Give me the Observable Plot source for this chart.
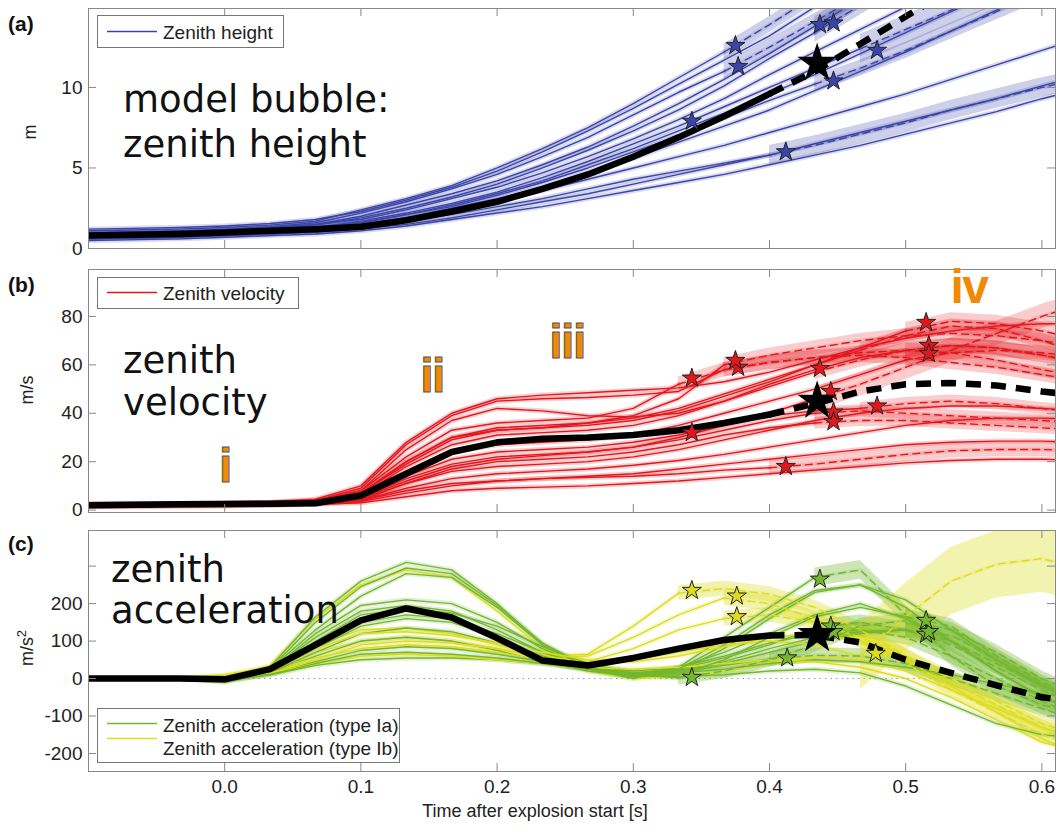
<!DOCTYPE html>
<html><head><meta charset="utf-8">
<script src="https://cdn.jsdelivr.net/npm/d3@7"></script>
<script src="https://cdn.jsdelivr.net/npm/@observablehq/plot@0.6"></script>
<style>
html,body{margin:0;padding:0;background:#fff;overflow:hidden;}
#wrap{position:relative;width:1056px;height:826px;overflow:hidden;}
.panel{position:absolute;left:0;}
#ov{position:absolute;left:0;top:0;pointer-events:none;}
</style></head>
<body>
<div id="wrap">
<div id="pa" class="panel" style="top:0px"></div>
<div id="pb" class="panel" style="top:262px"></div>
<div id="pc" class="panel" style="top:524px"></div>
<svg id="ov" width="1056" height="826" font-family="Liberation Sans, Arial, sans-serif" fill="#222">
  <g font-weight="bold" font-size="21" fill="#111">
    <text x="8" y="31">(a)</text>
    <text x="8" y="292">(b)</text>
    <text x="8" y="551">(c)</text>
  </g>
  <g font-size="18" text-anchor="middle">
    <text transform="translate(36,132) rotate(-90)">m</text>
    <text transform="translate(33,390) rotate(-90)">m/s</text>
    <text transform="translate(33,648) rotate(-90)">m/s<tspan baseline-shift="super" font-size="13">2</tspan></text>
  </g>
  <g font-family="DejaVu Sans" font-size="37" fill="#111">
    <text x="123" y="112">model bubble:</text>
    <text x="123" y="157">zenith height</text>
    <text x="123" y="373">zenith</text>
    <text x="123" y="415">velocity</text>
    <text x="111" y="582">zenith</text>
    <text x="111" y="623">acceleration</text>
  </g>
  <g font-family="Liberation Sans, Arial, sans-serif" font-weight="bold" font-size="48" fill="#f08a05" stroke="#555" stroke-width="1" text-anchor="middle" letter-spacing="-1.5">
    <text x="225" y="482">i</text>
    <text x="432" y="392">ii</text>
    <text x="567" y="358">iii</text>
    <text x="969" y="303" stroke="none">iv</text>
  </g>
  <g font-size="19">
    <rect x="97.5" y="15.5" width="186" height="32" fill="#fff" stroke="#777"/>
    <line x1="107" x2="157" y1="31.5" y2="31.5" stroke="#3b44a8" stroke-width="1.5"/>
    <text x="163" y="39">Zenith height</text>
    <rect x="97.5" y="277.5" width="201" height="31" fill="#fff" stroke="#777"/>
    <line x1="107" x2="157" y1="292.5" y2="292.5" stroke="#e3161c" stroke-width="1.5"/>
    <text x="163" y="300">Zenith velocity</text>
    <rect x="97.5" y="708.5" width="302" height="54" fill="#fff" stroke="#777"/>
    <line x1="107" x2="157" y1="723.5" y2="723.5" stroke="#74b72e" stroke-width="1.5"/>
    <text x="163" y="732">Zenith acceleration (type Ia)</text>
    <line x1="107" x2="157" y1="738.5" y2="738.5" stroke="#dedc1e" stroke-width="1.5"/>
    <text x="163" y="755">Zenith acceleration (type Ib)</text>
  </g>
  <text x="535" y="817" font-size="18" text-anchor="middle">Time after explosion start [s]</text>
</svg>
</div>
<script>
// ---------- shared time grid (s) ----------
const T = [-0.1,-0.0667,-0.0333,0,0.0333,0.0667,0.1,0.1333,0.1667,0.2,0.2333,0.2667,0.3,0.3333,0.3667,0.4,0.4333,0.4667,0.5,0.5333,0.5667,0.6,0.6333];
const xTicks = [0,0.1,0.2,0.3,0.4,0.5,0.6];

// ---------- (a) zenith height, m ----------
const h1  = [1.1,1.15,1.2,1.3,1.45,1.7,2.4,3.1,3.9,5.0,6.2,7.5,9.0,10.6,12.2,13.9,15.7,17.5];
const h2  = [1.0,1.05,1.1,1.2,1.35,1.6,2.2,2.9,3.7,4.6,5.7,6.9,8.3,9.7,11.0,12.5,14.1,15.7,17.3];
const h3  = [0.9,0.95,1.0,1.1,1.3,1.5,2.0,2.7,3.4,4.2,5.2,6.3,7.6,9.0,10.5,12.1,13.8,15.5,17.2];
const h4  = [0.8,0.85,0.95,1.05,1.2,1.45,1.9,2.5,3.2,4.0,5.0,6.1,7.3,8.6,10.1,11.8,13.4,15.1,16.8];
const h5  = [0.7,0.75,0.85,0.95,1.1,1.3,1.7,2.2,2.8,3.5,4.4,5.4,6.5,7.6,8.8,10.0,11.2,12.4,13.6,14.8,16.0];
const h6  = [0.75,0.8,0.9,1.0,1.1,1.3,1.6,2.1,2.6,3.3,4.1,5.0,6.0,7.0,8.1,9.2,10.2,11.2,12.3,13.5,14.7,15.9];
const h7  = [0.9,0.95,1.0,1.1,1.25,1.5,1.8,2.4,3.1,3.8,4.7,5.7,6.8,8.0,9.3,10.8,12.2,13.6,15.0,16.4];
const h8  = [1.2,1.25,1.3,1.4,1.55,1.8,2.3,3.0,3.8,4.8,6.0,7.3,8.7,10.2,11.7,13.2,15.0,16.8];
const h9  = [0.6,0.65,0.7,0.8,0.9,1.05,1.3,1.7,2.1,2.6,3.1,3.7,4.3,4.8,5.3,5.8,6.4,7.1,7.8,8.6,9.3,10.0,10.6];
const h10 = [0.85,0.9,0.95,1.05,1.15,1.3,1.4,1.9,2.4,3.0,3.6,4.3,5.0,5.7,6.4,7.2,8.0,8.8,9.6,10.5,11.4,12.3,13.2];
const h11 = [0.5,0.55,0.6,0.7,0.8,0.9,1.1,1.4,1.8,2.2,2.6,3.1,3.6,4.1,4.6,5.2,5.8,6.4,7.1,7.8,8.5,9.3,10.0];
const h12 = [0.6,0.65,0.7,0.8,0.9,1.0,1.2,1.5,1.9,2.4,2.9,3.4,4.0,4.6,5.2,5.8,6.5,7.2,7.9,8.6,9.3,10.1,10.8];
const h13 = [0.7,0.75,0.8,0.9,1.0,1.2,1.5,1.9,2.5,3.1,3.8,4.7,5.6,6.6,7.6,8.6,9.8,11.0,12.2,13.5,14.8,16.0];
const h14 = [0.8,0.85,0.9,1.0,1.1,1.3,1.6,2.1,2.7,3.4,4.2,5.2,6.2,7.3,8.4,9.6,10.8,12.1,13.4,14.7,16.0];
const heightLines  = [h1,h2,h3,h4,h5,h6,h7,h8,h9,h10,h11,h12,h13,h14];
const heightBreaks = [14,14,16,16,17,16,null,null,15,null,null,null,null,null];
const heightBands  = [0.5,0.5,0.6,0.6,0.9,0.5,0,0,0.6,0,0,0,0,0];
const heightStarT  = [0.375,0.377,0.437,0.447,0.479,0.447,0.412,0.343];
const heightStarV  = [12.6,11.3,13.9,14.0,12.3,10.4,6.0,7.9];
const heightMean   = [0.8,0.85,0.9,1.0,1.1,1.2,1.35,1.75,2.3,2.9,3.7,4.6,5.7,6.9,8.2,9.6,11.0,12.7,14.4,16.1];
const heightMeanBreak = 15;
const heightBigStar = [{t:0.435, v:11.5}];
const heightTicks = [0,5,10];

// ---------- (b) zenith velocity, m/s ----------
const v1  = [2,2.2,2.4,2.6,3,4,9,27,39,45,46,46.5,47.5,49,58,61,63,65,66,65,62,58,55];
const v2  = [1.8,2,2.2,2.4,2.8,3.5,8,25,37,42,41,39,38.5,40,45,51,57,62,66,68,67,64,61];
const v3  = [2.2,2.4,2.5,2.7,3,4,8,22,33,36,37,38,42,52,58,61,63,64,63,61,59,56,53];
const v4  = [2,2.2,2.3,2.5,2.8,3.5,7,20,30,34,35,36,38,42,48,54,60,67,74,78,77,74,70];
const v5  = [2.5,2.6,2.7,2.8,3,3.8,6,18,27,31,32,33,35,39,45,52,58,63,66,68,67,64,60];
const v6  = [1.5,1.7,1.9,2,2.3,3,6,16,24,27,28,29,31,35,40,45,50,56,62,65,66,65,63];
const v7  = [2,2.1,2.2,2.4,2.6,3.2,5,14,21,24,25,26,28,31,35,39,41,42,44,45,44,42,40];
const v8  = [2.2,2.3,2.4,2.5,2.7,3.2,5,13,19,22,23,24,26,29,33,37,40,41,40,39,38,37,36];
const v9  = [1.5,1.6,1.7,1.8,2,2.6,4,11,17,20,21,22,24,27,31,34,36,37,37,36,35,34,33];
const v10 = [1.8,1.9,2,2.1,2.3,2.8,3.5,7,10,12,13,13.5,14,15,16.5,17.5,19,21,23,24.5,25,25,24.5];
const v11 = [2,2.1,2.2,2.3,2.5,3,4,8,11,12,13,14,15,17,19,21,23,25,27,28,28.5,28.5,28];
const v12 = [2.3,2.4,2.5,2.6,2.8,3.3,5,12,18,21,22.5,24,26,30,35,40,46,52,59,66,73,80,86];
const v13 = [1.8,1.9,2,2.1,2.3,2.8,4,9,13,15,16,17,18.5,20.5,23,26,29,32,35,37,38,38,37.5];
const v14 = [2,2.2,2.3,2.5,2.8,3.6,7,20,30,33,34,36,39,46,60,64,67,70,72,73,72,70,67];
const v15 = [1.5,1.6,1.7,1.8,2,2.4,3,5.5,8,9,9.5,10,11,12,13.5,15,16.5,18,19.5,20.5,21,21,20.5];
const v16 = [2,2.1,2.2,2.3,2.5,3,4.5,11,16,18,19,20,22,25,29,33,37,40,42,43,43,42,41];
const v17 = [2.5,2.6,2.7,2.9,3.2,4.5,10,28,40,46,47.5,48.5,49.5,50.5,53,57,62,67,71,74,76,77,77];
const v18 = [2,2.1,2.2,2.4,2.7,3.4,7,19,29,33,34,35,37,41,47,53,60,66,72,76,75,70,64];
const velLines  = [v1,v2,v3,v4,v5,v6,v7,v8,v9,v10,v11,v12,v13,v14,v15,v16,v17,v18];
const velBreaks = [14,16,13,18,18,18,17,16,16,15,null,16,null,14,null,null,null,17];
const velBands  = [3,3,3,3.5,3,3,2.5,2.5,2.5,3,0,5,0,3,0,0,0,3];
const velStarT  = [0.377,0.437,0.343,0.515,0.517,0.517,0.479,0.447,0.447,0.412,0.445,0.375,0.343];
const velStarV  = [59,58.5,54.5,77.5,68,64.7,43,40.5,36.5,18,49,61.8,32];
const velMean   = [2.0,2.2,2.4,2.5,2.6,2.8,6,15,24,28,29.5,30,31,33,36,39.5,44,49,52,52.5,51.5,49,47];
const velMeanBreak = 15;
const velBigStar = [{t:0.435, v:45}];
const velTicks = [0,20,40,60,80];

// ---------- (c) zenith acceleration, m/s² ----------
const g1  = [0,0,0,-5,30,165,260,310,290,200,90,25,0,30,110,190,270,290,170,60,-20,-70,-100];
const g2  = [0,0,0,-8,25,150,245,295,280,195,95,30,5,20,80,160,230,250,190,100,20,-50,-90];
const g3  = [0,0,0,-3,20,120,195,210,200,150,80,30,10,30,70,120,170,200,160,100,20,-50,-100];
const g4  = [0,0,0,-4,22,110,180,195,180,130,70,30,15,25,55,90,135,150,130,90,30,-30,-80];
const g5  = [0,0,0,-2,18,90,150,170,160,120,70,35,20,30,60,95,120,130,110,60,0,-60,-110];
const g6  = [0,0,0,-10,15,60,100,110,100,75,45,20,5,15,35,52,62,60,40,0,-40,-80,-120];
const g7  = [0,0,0,-6,12,45,75,85,80,65,45,25,10,20,40,70,100,120,130,100,40,-20,-60];
const g8  = [0,0,0,-3,10,35,50,55,55,50,40,25,10,2,20,50,90,140,155,130,70,0,-50];
const g9  = [0,0,0,-4,15,70,120,135,125,95,60,30,10,20,45,80,110,125,130,115,50,-20,-70];
const g10 = [0,0,0,-2,20,100,170,185,175,140,85,40,15,15,25,40,50,45,30,10,-15,-40,-60];
const g11 = [0,0,0,-5,25,130,220,280,270,190,90,30,5,25,90,170,235,250,210,130,50,-20,-60];
const g12 = [0,0,0,-5,20,80,140,160,150,110,60,25,5,10,50,110,165,190,165,140,60,-10,-60];
const g13 = [0,0,0,-6,10,40,65,70,65,55,40,25,10,5,10,20,25,15,-20,-70,-120,-150,-160];
const y1  = [0,0,0,5,35,160,250,290,270,180,80,20,0,5,20,40,60,50,20,-30,-80,-130,-170];
const y2  = [0,0,0,10,30,90,130,135,120,90,60,65,140,228,240,225,190,130,60,-10,-70,-130,-170];
const y3  = [0,0,0,8,25,70,100,110,100,80,55,60,110,170,215,200,160,100,40,-30,-90,-150,-190];
const y4  = [0,0,0,5,20,55,80,90,85,70,50,45,80,130,160,170,150,110,60,0,-60,-120,-160];
const y5  = [0,0,0,3,15,50,90,100,95,80,60,45,50,70,90,100,90,60,165,260,305,320,290];
const y6  = [0,0,0,2,15,40,60,65,60,50,40,30,25,30,40,50,45,30,0,-50,-110,-170,-200];
const y7  = [0,0,0,4,25,80,120,125,115,95,70,50,45,60,85,110,120,100,50,-20,-90,-160,-210];
const accLines  = [y1,g1,g2,y2,g3,g4,y3,g5,g6,y4,g7,g8,y5,g9,g10,y6,g11,g12,y7,g13];
const accTypes  = ["Ib","Ia","Ia","Ib","Ia","Ia","Ib","Ia","Ia","Ib","Ia","Ia","Ib","Ia","Ia","Ib","Ia","Ia","Ib","Ia"];
const accBreaks = [null,16,null,13,null,16,14,16,15,14,18,13,17,18,null,null,null,18,null,null];
const accBands  = [0,25,0,20,0,20,20,20,20,20,20,20,90,20,0,0,0,20,0,0];
const accStarT  = [0.437,0.445,0.447,0.413,0.515,0.343,0.517,0.515,0.343,0.376,0.376,0.478];
const accStarV  = [265,140,125,55,118,3,125,155,235,220,165,67];
const accStarType = ["Ia","Ia","Ia","Ia","Ia","Ia","Ia","Ia","Ib","Ib","Ib","Ib"];
const accMean   = [0,0,0,-2,25,90,155,187,163,108,48,35,55,80,103,115,116,96,50,15,-18,-50,-65];
const accMeanBreak = 15;
const accBigStar = [{t:0.435, v:118}];
const accTicks = [-200,-100,0,100,200,300];
const accTickLabels = [-200,-100,0,100,200];

// ---------- helpers ----------
const BLUE = "#3b44a8", RED = "#e3161c", GREEN = "#74b72e", YELLOW = "#dedc1e";
const XD = [-0.1, 0.61];
const W = 1056, ML = 88, MR = 1;

function buildRows(lines, breaks, bands, types) {
  const solid = [], dashed = [], band = [];
  lines.forEach((vals, k) => {
    const b = breaks[k];
    const type = types ? types[k] : "s";
    vals.forEach((v, i) => {
      const row = {id: k, t: T[i], v, type};
      if (b == null || i <= b) solid.push(row);
      if (b != null && i >= b) {
        dashed.push(row);
        if (bands[k] > 0) band.push({id: k, t: T[i], lo: v - bands[k], hi: v + bands[k], type});
      }
    });
  });
  return {solid, dashed, band};
}
function meanRows(vals, b) {
  const s = [], d = [];
  vals.forEach((v, i) => { if (i <= b) s.push({t: T[i], v}); if (i >= b) d.push({t: T[i], v}); });
  return {s, d};
}
function starRows(ts, vs, types) { return ts.map((t, i) => ({t, v: vs[i], type: types ? types[i] : "s"})); }

function frameTicks(yd, H, yt) {
  const pw = W - ML - MR;
  const dx = (XD[1] - XD[0]) * 8 / pw, dy = (yd[1] - yd[0]) * 8 / H;
  const st = {stroke: "#888", strokeWidth: 1};
  return [
    Plot.ruleX(xTicks, {x: d => d, y1: yd[0], y2: yd[0] + dy, ...st}),
    Plot.ruleX(xTicks, {x: d => d, y1: yd[1], y2: yd[1] - dy, ...st}),
    Plot.ruleY(yt, {y: d => d, x1: XD[0], x2: XD[0] + dx, ...st}),
    Plot.ruleY(yt, {y: d => d, x1: XD[1], x2: XD[1] - dx, ...st})
  ];
}

function panel({lines, breaks, bands, types, mean, meanBreak, stars, big, yd, height, mt, mb, yt, ytl, colorOpt, colorConst, bandOpacity, extra, xAxis}) {
  const r = buildRows(lines, breaks, bands, types);
  const m = meanRows(mean, meanBreak);
  const H = height - mt - mb;
  const col = colorConst ? colorConst : "type";
  const marks = [
    ...(extra || []),
    Plot.areaY(r.band, {x: "t", y1: "lo", y2: "hi", z: "id", fill: col, fillOpacity: bandOpacity, clip: true}),
    Plot.line(r.solid, {x: "t", y: "v", z: "id", stroke: col, strokeWidth: 5, strokeOpacity: 0.2, clip: true}),
    Plot.line(r.dashed, {x: "t", y: "v", z: "id", stroke: col, strokeWidth: 4, strokeOpacity: 0.15, clip: true}),
    Plot.line(r.solid, {x: "t", y: "v", z: "id", stroke: col, strokeWidth: 1.4, clip: true}),
    Plot.line(r.dashed, {x: "t", y: "v", z: "id", stroke: col, strokeWidth: 1.4, strokeDasharray: "7,5", clip: true}),
    Plot.line(m.s, {x: "t", y: "v", stroke: "#000", strokeWidth: 6.5, clip: true}),
    Plot.line(m.d, {x: "t", y: "v", stroke: "#000", strokeWidth: 6.5, strokeDasharray: "15,10", strokeLinecap: "butt", clip: true}),
    Plot.dot(stars, {x: "t", y: "v", symbol: "star", r: 6, fill: col, stroke: "#222", strokeWidth: 1, clip: true}),
    Plot.dot(big, {x: "t", y: "v", symbol: "star", r: 11, fill: "#000", stroke: "#000", clip: true}),
    Plot.frame({stroke: "#888"}),
    ...frameTicks(yd, H, yt),
    Plot.axisY(ytl, {anchor: "left", tickSize: 0, tickPadding: 6, tickFormat: d => String(d), label: null})
  ];
  if (xAxis) marks.push(Plot.axisX(xTicks, {anchor: "bottom", tickSize: 0, tickPadding: 8, tickFormat: d3.format(".1f"), label: null}));
  const xScale = xAxis ? {domain: XD} : {domain: XD, axis: null};
  return Plot.plot({
    width: W, height, marginLeft: ML, marginRight: MR, marginTop: mt, marginBottom: mb,
    x: xScale, y: {domain: yd},
    color: colorOpt,
    style: {fontFamily: "Liberation Sans, Arial, sans-serif", fontSize: "19px", color: "#222", background: "transparent", overflow: "visible"},
    marks
  });
}

document.getElementById("pa").append(panel({
  lines: heightLines, breaks: heightBreaks, bands: heightBands, types: null,
  mean: heightMean, meanBreak: heightMeanBreak,
  stars: starRows(heightStarT, heightStarV), big: heightBigStar,
  yd: [0, 14.9], height: 262, mt: 8, mb: 14, yt: heightTicks, ytl: heightTicks,
  colorConst: BLUE, bandOpacity: 0.25
}));

document.getElementById("pb").append(panel({
  lines: velLines, breaks: velBreaks, bands: velBands, types: null,
  mean: velMean, meanBreak: velMeanBreak,
  stars: starRows(velStarT, velStarV), big: velBigStar,
  yd: [-1, 99.4], height: 262, mt: 7, mb: 12, yt: velTicks, ytl: velTicks,
  colorConst: RED, bandOpacity: 0.22
}));

document.getElementById("pc").append(panel({
  lines: accLines, breaks: accBreaks, bands: accBands, types: accTypes,
  mean: accMean, meanBreak: accMeanBreak,
  stars: starRows(accStarT, accStarV, accStarType), big: accBigStar,
  yd: [-248, 395], height: 302, mt: 6, mb: 55, yt: accTicks, ytl: accTickLabels,
  colorOpt: {domain: ["Ia", "Ib"], range: [GREEN, YELLOW]}, bandOpacity: 0.35,
  extra: [Plot.ruleY([0], {stroke: "#999", strokeDasharray: "1.5,4"})],
  xAxis: true
}));
</script>
</body></html>
